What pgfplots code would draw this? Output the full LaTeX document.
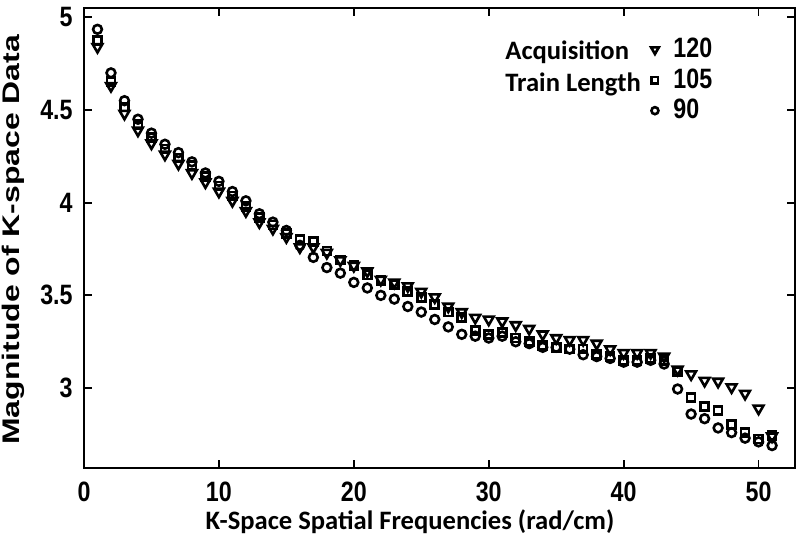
\documentclass[border=0pt]{standalone}
\usepackage{fontspec}
\setmainfont{Liberation Sans}
\newfontfamily\calibri{Carlito}
\newfontfamily\narrow[FakeStretch=0.83]{Liberation Sans}
\newfontfamily\ylab[FakeStretch=1.33]{Liberation Sans}
\usepackage{pgfplots}
\pgfplotsset{compat=1.18}
\usepackage{pgfplotstable}

\pgfplotstableread{
x y
1 4.84
2 4.63
3 4.48
4 4.39
5 4.32
6 4.26
7 4.21
8 4.16
9 4.11
10 4.06
11 4.01
12 3.955
13 3.895
14 3.86
15 3.815
16 3.76
17 3.76
18 3.73
19 3.69
20 3.66
21 3.63
22 3.585
23 3.57
24 3.55
25 3.52
26 3.49
27 3.44
28 3.41
29 3.38
30 3.37
31 3.36
32 3.34
33 3.32
34 3.29
35 3.27
36 3.26
37 3.26
38 3.24
39 3.21
40 3.19
41 3.19
42 3.19
43 3.17
44 3.10
45 3.075
46 3.04
47 3.035
48 3.005
49 2.97
50 2.89
51 2.74
}\tlonetwenty

\pgfplotstableread{
x y
1 4.876
2 4.655
3 4.515
4 4.42
5 4.35
6 4.29
7 4.24
8 4.20
9 4.14
10 4.09
11 4.035
12 3.98
13 3.92
14 3.88
15 3.835
16 3.80
17 3.79
18 3.74
19 3.69
20 3.66
21 3.61
22 3.58
23 3.56
24 3.52
25 3.49
26 3.45
27 3.41
28 3.38
29 3.31
30 3.29
31 3.30
32 3.27
33 3.25
34 3.23
35 3.22
36 3.21
37 3.21
38 3.18
39 3.17
40 3.15
41 3.15
42 3.16
43 3.15
44 3.09
45 2.95
46 2.90
47 2.88
48 2.805
49 2.76
50 2.725
51 2.745
}\tlonefive

\pgfplotstableread{
x y
1 4.935
2 4.70
3 4.55
4 4.45
5 4.375
6 4.315
7 4.27
8 4.22
9 4.16
10 4.115
11 4.06
12 4.01
13 3.94
14 3.895
15 3.85
16 3.77
17 3.705
18 3.65
19 3.62
20 3.57
21 3.54
22 3.50
23 3.48
24 3.44
25 3.41
26 3.37
27 3.33
28 3.29
29 3.28
30 3.27
31 3.28
32 3.25
33 3.24
34 3.22
35 3.22
36 3.21
37 3.18
38 3.17
39 3.16
40 3.14
41 3.14
42 3.15
43 3.13
44 2.995
45 2.86
46 2.835
47 2.785
48 2.76
49 2.73
50 2.71
51 2.69
}\tlninety

\begin{document}
\begin{tikzpicture}
\begin{axis}[
    scale only axis,
    width=355.5pt, height=230pt,
    xmin=0, xmax=52.7,
    ymin=2.569, ymax=5.05,
    xtick={0,10,...,50},
    ytick={3,3.5,4,4.5,5},
    tick align=inside,
    major tick length=4pt,
    axis line style={line width=0.9pt},
    tick style={line width=0.9pt, black},
    /pgf/number format/assume math mode=true,
    ticklabel style={font=\narrow\bfseries\fontsize{14}{14}\selectfont, inner sep=0pt},
    yticklabel style={/pgf/number format/fixed, /pgf/number format/precision=1, xshift=-5.5pt},
    xticklabel style={yshift=-7pt},
    legend style={at={(0.797,0.935)}, anchor=north west, draw=none, fill=none, inner sep=0pt,
        nodes={inner sep=0pt},
        font=\narrow\bfseries\fontsize{14}{14}\selectfont, row sep=4pt,
        /tikz/every odd column/.append style={column sep=7.3pt}},
    legend cell align=left,
    legend image code/.code={\draw[#1] plot coordinates {(0pt,0pt)};},
    legend image post style={/tikz/every mark/.append style={scale=0.8}},
    clip=false,
]
\addplot[only marks, mark=triangle, mark options={rotate=180, line width=1.3pt}, mark size=2.8pt]
    table {\tlonetwenty};
\addplot[only marks, mark=square, mark options={line width=1.3pt}, mark size=2pt]
    table {\tlonefive};
\addplot[only marks, mark=o, mark options={line width=1.3pt}, mark size=2.2pt]
    table {\tlninety};
\legend{120,105,90}
\coordinate (bl) at (rel axis cs:0,0);
\coordinate (tr) at (rel axis cs:1,1);
\coordinate (tl) at (rel axis cs:0,1);
\end{axis}
\node[anchor=base, inner sep=0pt, font=\calibri\bfseries\fontsize{13.3}{13.3}\selectfont]
    at ([shift={(163pt,-31pt)}]bl) {K-Space Spatial Frequencies (rad/cm)};
\node[rotate=90, anchor=base, inner sep=0pt, font=\ylab\bfseries\fontsize{12}{12}\selectfont]
    at ([shift={(-32pt,114pt)}]bl) {Magnitude of K-space Data};
\node[anchor=base west, inner sep=0pt, font=\calibri\bfseries\fontsize{13.3}{13.3}\selectfont]
    at ([shift={(210.5pt,-26pt)}]tl) {Acquisition};
\node[anchor=base west, inner sep=0pt, font=\calibri\bfseries\fontsize{13.3}{13.3}\selectfont]
    at ([shift={(210.5pt,-42pt)}]tl) {Train Length};
\pgfresetboundingbox
\path ([shift={(-42pt,-36pt)}]bl) rectangle ([shift={(2.5pt,4pt)}]tr);
\end{tikzpicture}
\end{document}
